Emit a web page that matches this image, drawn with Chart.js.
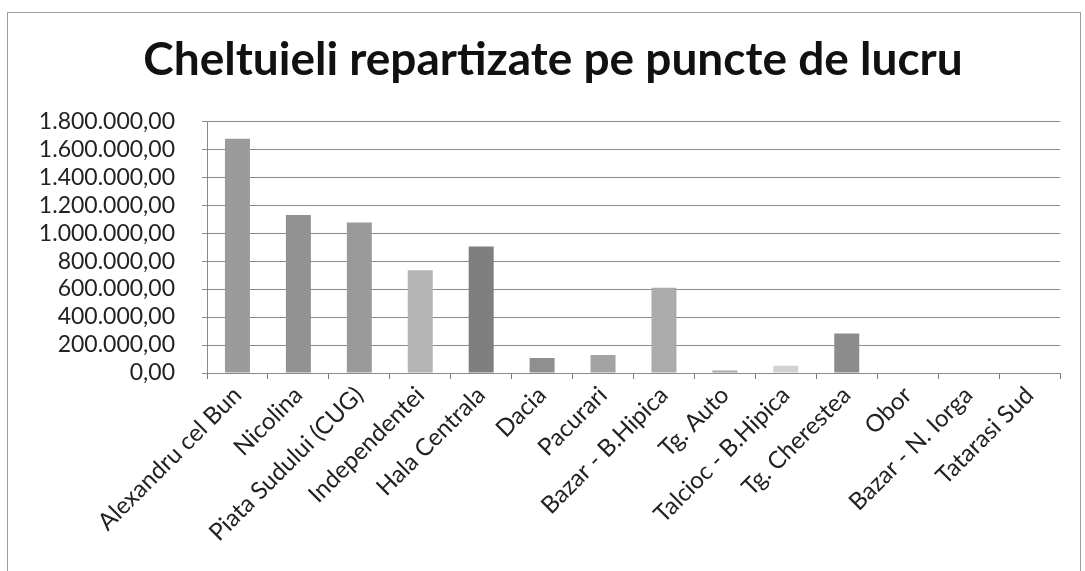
<!DOCTYPE html>
<html>
<head>
<meta charset="utf-8">
<script src="https://cdn.jsdelivr.net/npm/chart.js@4.4.0/dist/chart.umd.min.js"></script>
<style>
    html, body { margin: 0; padding: 0; background: #ffffff; }
    #cadru { position: absolute; left: 7px; top: 12px; width: 1072px; height: 570px; border: 1px solid #9c9c9c; }
    #graficCheltuieli { position: absolute; left: 0; top: 0; }
</style>
</head>
<body>
<div id="cadru"></div>
<canvas id="graficCheltuieli" width="1085" height="571"></canvas>
<script>
// puncte de lucru si cheltuieli
let puncte = ['Alexandru cel Bun', 'Nicolina', 'Piata Sudului (CUG)', 'Independentei', 'Hala Centrala',
    'Dacia', 'Pacurari', 'Bazar - B.Hipica', 'Tg. Auto', 'Talcioc - B.Hipica', 'Tg. Cherestea',
    'Obor', 'Bazar - N. Iorga', 'Tatarasi Sud'];
let cheltuieli = [1675000, 1130000, 1075000, 735000, 905000, 108000, 128000, 610000, 18000, 52000, 283000, 0, 0, 0];
let culori = ['#9b9b9b', '#929292', '#9a9a9a', '#b5b5b5', '#7f7f7f', '#8f8f8f', '#a3a3a3', '#ababab',
    '#a6a6a6', '#d2d2d2', '#8c8c8c', '#9b9b9b', '#9b9b9b', '#9b9b9b'];
let titlu = 'Cheltuieli repartizate pe puncte de lucru';
let yMax = 1800000;
let yPas = 200000;

function formatRo(v) {
    let parti = Math.round(v).toString().replace(/\B(?=(\d{3})+(?!\d))/g, '.');
    return parti + ',00';
}

var ctx = document.getElementById('graficCheltuieli');
var grafic = new Chart(ctx, {
    type: 'bar',
    data: {
        labels: puncte,
        datasets: [{
            label: 'Cheltuieli',
            data: cheltuieli,
            backgroundColor: culori,
            borderWidth: 0,
            barPercentage: 0.41,
            categoryPercentage: 1
        }]
    },
    options: {
        responsive: false,
        animation: false,
        layout: { padding: { top: 12, left: 27, right: 6, bottom: 0 } },
        plugins: {
            legend: { display: false },
            tooltip: { enabled: false },
            title: {
                display: true,
                text: titlu,
                color: '#111111',
                font: { family: 'Lato', size: 46, weight: 'bold' },
                padding: { top: 21, bottom: 33 }
            }
        },
        scales: {
            x: {
                grid: { display: true, drawOnChartArea: false, color: '#7a7a7a', tickLength: 6, offset: true },
                border: { color: '#8a8a8a' },
                ticks: {
                    color: '#222222',
                    font: { family: 'Lato', size: 24 },
                    minRotation: 45,
                    maxRotation: 45,
                    autoSkip: false,
                    padding: 2
                },
                afterFit: function (scale) { scale.height = 198; }
            },
            y: {
                min: 0,
                max: yMax,
                grid: { color: '#8a8a8a', tickLength: 5 },
                border: { color: '#8a8a8a' },
                ticks: {
                    stepSize: yPas,
                    autoSkip: false,
                    color: '#222222',
                    font: { family: 'Lato', size: 23 },
                    padding: 27,
                    callback: function (v) { return formatRo(v); }
                },
                afterFit: function (scale) { scale.width = 180; }
            },
            // spatiu gol in dreapta zonei de desen
            spatiu: {
                position: 'right',
                display: true,
                grid: { display: false },
                border: { display: false },
                ticks: { display: false },
                afterFit: function (scale) { scale.width = 19; }
            }
        }
    }
});
</script>
</body>
</html>
